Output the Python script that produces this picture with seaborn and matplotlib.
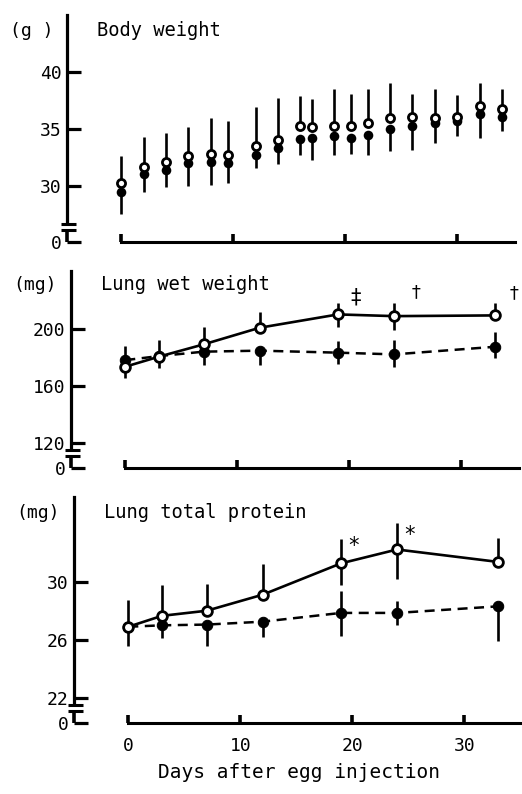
import seaborn as sns
import matplotlib.pyplot as plt
import matplotlib.transforms as mtransforms
import pandas as pd

# Body weight (g), open = control, filled = egg injected
bw_days = [0, 2, 4, 6, 8, 9.5, 12, 14, 16, 17, 19, 20.5, 22, 24, 26, 28, 30, 32, 34]
bw_open = [30.3, 31.7, 32.1, 32.6, 32.8, 32.7, 33.5, 34.0, 35.3, 35.2, 35.3, 35.3, 35.5, 36.0, 36.1, 36.0, 36.1, 37.0, 36.8]
bw_open_sd = [2.35, 2.6, 2.55, 2.55, 3.2, 3.0, 3.4, 3.7, 2.6, 2.45, 3.2, 2.75, 3.05, 3.0, 2.0, 2.55, 1.9, 2.05, 1.7]
bw_fill = [29.5, 31.1, 31.4, 32.0, 32.1, 32.0, 32.7, 33.3, 34.1, 34.2, 34.4, 34.2, 34.5, 35.0, 35.3, 35.5, 35.7, 36.3, 36.1]
bw_fill_sd = [1.95, 1.6, 1.5, 2.0, 2.0, 1.75, 1.15, 1.35, 1.35, 1.9, 1.7, 1.35, 1.8, 1.9, 2.1, 1.75, 1.3, 2.05, 1.3]

# Lung wet weight (mg)
lung_days = [0, 3, 7, 12, 19, 24, 33]
ww_open = [173.5, 180.5, 189.1, 200.7, 210.0, 208.8, 209.3]
ww_open_hi = [0, 11.6, 12.3, 10.7, 8.1, 9.3, 8.8]
ww_open_lo = [8, 0, 0, 0, 8.6, 9.8, 0]
ww_fill = [178.1, 180.9, 184.0, 184.7, 183.3, 182.1, 187.4]
ww_fill_hi = [10, 0, 0, 0, 8, 10, 10.5]
ww_fill_lo = [0, 8.6, 9.3, 10, 8, 9, 8.1]

# Lung total protein (mg)
tp_open = [26.9, 27.65, 28.0, 29.1, 31.25, 32.2, 31.35]
tp_open_hi = [1.85, 2.1, 1.85, 2.1, 1.65, 1.8, 1.65]
tp_open_lo = [0, 0, 0, 0, 1.5, 2.05, 0]
tp_fill = [26.9, 27.0, 27.05, 27.25, 27.85, 27.85, 28.3]
tp_fill_hi = [0, 0, 0, 0, 1.5, 0.8, 0]
tp_fill_lo = [1.35, 0.9, 1.5, 1.05, 1.6, 0.85, 2.35]

sns.set_theme(style='white')
plt.rcParams['font.family'] = ['DejaVu Sans Mono', 'DejaVu Sans']
plt.rcParams['text.color'] = 'black'

fig = plt.figure(figsize=(5.22, 7.94), dpi=100)
W, H = 522, 794


def make_axes(left, top, bottom):
    return fig.add_axes([left / W, 1 - bottom / H, 449 / W, (bottom - top) / H])


ax1 = make_axes(67, 15, 242)
ax2 = make_axes(71, 271, 468)
ax3 = make_axes(74, 497, 723)

panels = [
    (ax1, (25.1, 45.0), [30, 35, 40], 'Body weight', '(g )'),
    (ax2, (102.8, 240.3), [120, 160, 200], 'Lung wet weight', '(mg)'),
    (ax3, (20.3, 35.8), [22, 26, 30], 'Lung total protein', '(mg)'),
]

for ax, ylim, yt, title, unit in panels:
    ax.set_xlim(-4.85, 35.25)
    ax.set_ylim(*ylim)
    hpx = ax.get_position().height * H
    upx = (ylim[1] - ylim[0]) / hpx  # data units per pixel
    for s in ['top', 'right']:
        ax.spines[s].set_visible(False)
    ax.spines['left'].set_linewidth(2.3)
    ax.spines['left'].set_bounds(ylim[0] + 20 * upx, ylim[1])
    ax.spines['bottom'].set_linewidth(2.2)
    ax.spines['bottom'].set_bounds(0, 35.2)
    ax.spines['left'].set_color('black')
    ax.spines['bottom'].set_color('black')
    ax.set_yticks([ylim[0]] + yt)
    ax.set_yticklabels(['0'] + [str(v) for v in yt])
    ax.set_xticks([0, 10, 20, 30])
    ax.tick_params(axis='y', left=True, direction='in', length=10, width=2.3,
                   pad=4, labelsize=13, colors='black')
    ax.tick_params(axis='x', bottom=True, direction='in', length=6, width=2.6,
                   pad=10, labelsize=13, colors='black')
    # axis break
    tr = mtransforms.blended_transform_factory(ax.transAxes, ax.transData)
    for yy in (18, 12):
        v = ylim[0] + yy * upx
        ax.plot([-0.014, 0.02], [v, v], transform=tr, color='black', lw=2.2,
                clip_on=False, solid_capstyle='butt')
    ax.plot([0, 0], [ylim[0], ylim[0] + 10 * upx], transform=tr, color='black',
            lw=2.6, clip_on=False, solid_capstyle='butt')
    ax.text(0.067, 0.93, title, transform=ax.transAxes,
            fontsize=13.5, ha='left', va='center')
    ax.text(-0.128, 0.93, unit, transform=ax.transAxes, fontsize=13,
            ha='left', va='center')
    ax.grid(False)

ax1.set_xticklabels([])
ax2.set_xticklabels([])

mk_open = dict(marker='o', markersize=7, markerfacecolor='white',
               markeredgecolor='black', markeredgewidth=2)
mk_fill = dict(marker='o', markersize=7.5, markerfacecolor='black',
               markeredgecolor='black')

# Body weight: open bars up, filled bars down, no lines
ax1.errorbar(bw_days, bw_fill, yerr=[bw_fill_sd, [0] * len(bw_fill_sd)],
             fmt='none', ecolor='black', elinewidth=1.9, capsize=0)
ax1.errorbar(bw_days, bw_open, yerr=[[0] * len(bw_open_sd), bw_open_sd],
             fmt='none', ecolor='black', elinewidth=1.9, capsize=0)
df_bw = pd.DataFrame({'day': bw_days, 'open': bw_open, 'fill': bw_fill})
sns.scatterplot(data=df_bw, x='day', y='fill', ax=ax1, s=48, color='black',
                edgecolor='black', linewidth=0, zorder=3)
sns.scatterplot(data=df_bw, x='day', y='open', ax=ax1, s=34, color='white',
                edgecolor='black', linewidth=2, zorder=4)
ax1.set_xlabel('')
ax1.set_ylabel('')


def lung_panel(ax, opn, o_lo, o_hi, fil, f_lo, f_hi):
    ax.errorbar(lung_days, fil, yerr=[f_lo, f_hi], fmt='none', ecolor='black',
                elinewidth=1.9, capsize=0)
    ax.errorbar(lung_days, opn, yerr=[o_lo, o_hi], fmt='none', ecolor='black',
                elinewidth=1.9, capsize=0)
    df = pd.DataFrame({'day': lung_days, 'open': opn, 'fill': fil})
    sns.lineplot(data=df, x='day', y='fill', ax=ax, color='black', lw=1.8,
                 linestyle=(0, (4, 2.6)), zorder=3, **mk_fill)
    sns.lineplot(data=df, x='day', y='open', ax=ax, color='black', lw=1.9,
                 zorder=4, **mk_open)
    ax.set_xlabel('')
    ax.set_ylabel('')


lung_panel(ax2, ww_open, ww_open_lo, ww_open_hi, ww_fill, ww_fill_lo, ww_fill_hi)
lung_panel(ax3, tp_open, tp_open_lo, tp_open_hi, tp_fill, tp_fill_lo, tp_fill_hi)

ax2.text(20.6, 222, '‡', fontsize=15, ha='center', va='center')
ax2.text(26.0, 225.4, '†', fontsize=13, ha='center', va='center')
ax2.text(34.7, 224.8, '†', fontsize=13, ha='center', va='center')
ax3.text(20.1, 32.45, '*', fontsize=15, ha='center', va='center')
ax3.text(25.1, 33.2, '*', fontsize=15, ha='center', va='center')

ax3.set_xticklabels(['0', '10', '20', '30'])
ax3.set_xlabel('Days after egg injection', fontsize=14, labelpad=6,
               color='black')

plt.savefig('out.png', dpi=100)
